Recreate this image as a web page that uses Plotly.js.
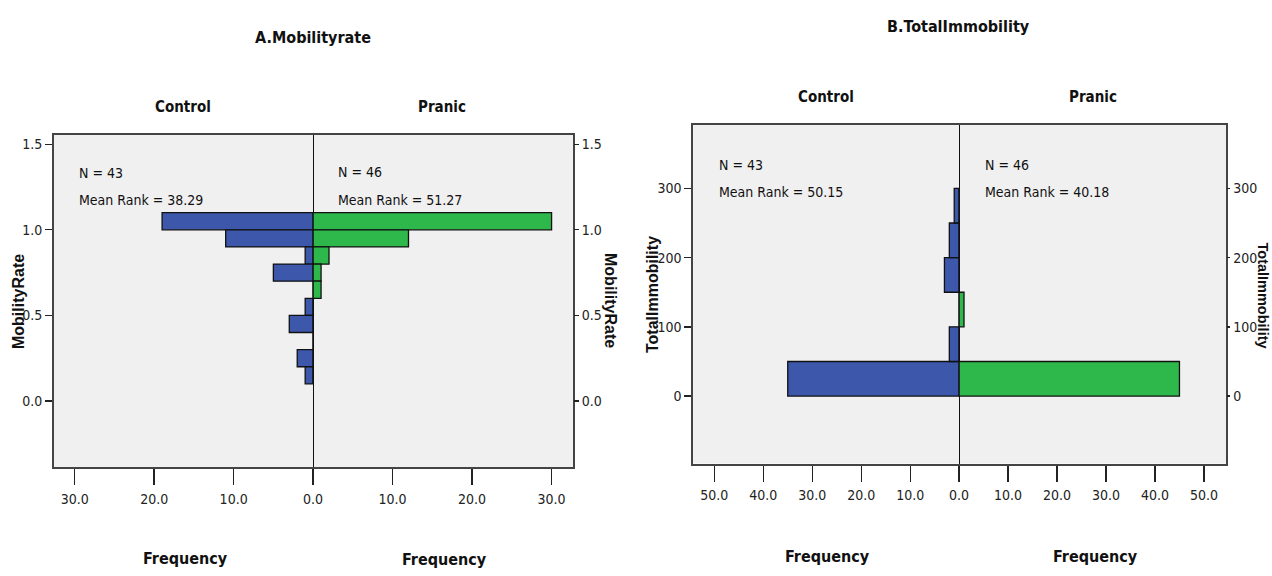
<!DOCTYPE html>
<html>
<head>
<meta charset="utf-8">
<script src="https://cdn.plot.ly/plotly-3.0.1.min.js"></script>
<style>
html,body{margin:0;padding:0;background:#fff;}
#chart{width:1272px;height:576px;}
</style>
</head>
<body>
<div id="chart"></div>
<script>
// ---- Data ----
// Panel A: MobilityRate histogram, bin midpoints (bin width 0.1)
var mobilityBins = [1.05, 0.95, 0.85, 0.75, 0.65, 0.55, 0.45, 0.35, 0.25, 0.15];
var mobilityControl = [19, 11, 1, 5, 0, 1, 3, 0, 2, 1];
var mobilityPranic = [30, 12, 2, 1, 1, 0, 0, 0, 0, 0];
var mobilityBinWidth = 0.1;

// Panel B: TotalImmobility histogram, bin midpoints (bin width 50)
var immobilityBins = [25, 75, 125, 175, 225, 275];
var immobilityControl = [35, 2, 0, 3, 2, 1];
var immobilityPranic = [45, 0, 1, 0, 0, 0];
var immobilityBinWidth = 50;

// Tick labels
var mobilityFreqTicks = [-30, -20, -10, 0, 10, 20, 30];
var immobilityFreqTicks = [-50, -40, -30, -20, -10, 0, 10, 20, 30, 40, 50];
var mobilityRateTicks = [0, 0.5, 1.0, 1.5];
var mobilityRateLabels = ["0.0", "0.5", "1.0", "1.5"];
var immobilityTicks = [0, 100, 200, 300];
var immobilityLabels = ["0", "100", "200", "300"];

// Group stats
var groupNames = ["Control", "Pranic"];
var mobilityN = [43, 46];
var mobilityMeanRank = ["38.29", "51.27"];
var immobilityN = [43, 46];
var immobilityMeanRank = ["50.15", "40.18"];

// ---- Styling ----
var BLUE = '#3d57ab';
var GREEN = '#2eb84b';
var NARROW = 'DejaVu Sans Condensed, Liberation Sans Narrow, DejaVu Sans, sans-serif';
var WIDE = 'Liberation Sans, Arial, DejaVu Sans, sans-serif';

function neg(a){ return a.map(function(v){ return -v; }); }
function absLabels(a){ return a.map(function(v){ return Math.abs(v).toFixed(1); }); }

function barTrace(vals, bins, w, color, xa, ya){
  return {
    type: 'bar', orientation: 'h',
    x: vals, y: bins, width: w, base: 0,
    xaxis: xa, yaxis: ya,
    marker: {color: color, line: {color: '#111', width: 1.3}},
    hoverinfo: 'skip', showlegend: false
  };
}

var traces = [
  barTrace(neg(mobilityControl), mobilityBins, mobilityBinWidth, BLUE, 'x', 'y'),
  barTrace(mobilityPranic, mobilityBins, mobilityBinWidth, GREEN, 'x', 'y'),
  barTrace(neg(immobilityControl), immobilityBins, immobilityBinWidth, BLUE, 'x2', 'y2'),
  barTrace(immobilityPranic, immobilityBins, immobilityBinWidth, GREEN, 'x2', 'y2'),
  {type:'scatter', x:[], y:[], xaxis:'x', yaxis:'y3', hoverinfo:'skip', showlegend:false},
  {type:'scatter', x:[], y:[], xaxis:'x2', yaxis:'y4', hoverinfo:'skip', showlegend:false}
];

var tickFont = {family: NARROW, size: 14, color: '#222', stretch: 'condensed'};

function xAxis(domain, range, ticks){
  return {
    domain: domain, range: range, fixedrange: true,
    tickmode: 'array', tickvals: ticks, ticktext: absLabels(ticks),
    ticks: 'outside', ticklen: 16, tickwidth: 1.3, tickcolor: '#222',
    tickfont: tickFont, ticklabelstandoff: 2,
    showgrid: false,
    zeroline: true, zerolinecolor: '#111', zerolinewidth: 1.2,
    showline: true, mirror: true, linecolor: '#444', linewidth: 2
  };
}
function yAxis(domain, range, ticks, labels, anchor){
  return {
    domain: domain, range: range, anchor: anchor, fixedrange: true,
    tickmode: 'array', tickvals: ticks, ticktext: labels,
    ticks: 'outside', ticklen: 7, tickwidth: 1.3, tickcolor: '#222',
    tickfont: tickFont, ticklabelstandoff: 0,
    showgrid: false, zeroline: false,
    showline: true, mirror: true, linecolor: '#444', linewidth: 2
  };
}
function yRight(over, range, ticks, labels, anchor, len){
  return {
    overlaying: over, side: 'right', anchor: anchor, range: range, fixedrange: true,
    tickmode: 'array', tickvals: ticks, ticktext: labels,
    ticks: 'outside', ticklen: len, tickwidth: 1.3, tickcolor: '#222',
    tickfont: tickFont, ticklabelstandoff: 0,
    showgrid: false, zeroline: false, showline: false
  };
}

var yA = [0.1892, 0.7656];
var yB = [0.1953, 0.7830];
var rangeA = [-0.386, 1.554];
var rangeB = [-97.3, 391.5];

var layout = {
  width: 1272, height: 576,
  margin: {l: 0, r: 0, t: 0, b: 0},
  paper_bgcolor: '#ffffff',
  plot_bgcolor: '#f0f0f0',
  barmode: 'overlay',
  showlegend: false,
  xaxis: xAxis([0.04245, 0.4505], [-32.6, 32.7], mobilityFreqTicks),
  yaxis: yAxis(yA, rangeA, mobilityRateTicks, mobilityRateLabels, 'x'),
  xaxis2: Object.assign(xAxis([0.5450, 0.9642], [-54.3, 54.6], immobilityFreqTicks), {anchor: 'y2'}),
  yaxis2: yAxis(yB, rangeB, immobilityTicks, immobilityLabels, 'x2'),
  yaxis3: yRight('y', rangeA, mobilityRateTicks, mobilityRateLabels, 'x', 5),
  yaxis4: yRight('y2', rangeB, immobilityTicks, immobilityLabels, 'x2', 3),
  annotations: []
};
layout.xaxis.anchor = 'y';

function ann(text, x, y, opts){
  var a = {
    text: text, x: x, y: y, xref: 'paper', yref: 'paper',
    xanchor: 'center', yanchor: 'middle', showarrow: false,
    font: {family: NARROW, size: 15, color: '#111', weight: 'bold', stretch: 'condensed'}
  };
  for (var k in opts) a[k] = opts[k];
  return a;
}
function px(x){ return x / 1272; }
function py(y){ return 1 - y / 576; }

var A = layout.annotations;
var titleFont = {family: NARROW, size: 16, color: '#111', weight: 'bold', stretch: 'condensed'};
var freqFont = {family: NARROW, size: 16, color: '#111', weight: 'bold', stretch: 'condensed'};
// Titles
A.push(ann('A.Mobilityrate', px(312.7), py(37.3), {font: titleFont}));
A.push(ann('B.TotalImmobility', px(958), py(26.7), {font: titleFont}));
// Group labels
A.push(ann(groupNames[0], px(183.3), py(106.7)));
A.push(ann(groupNames[1], px(442), py(106.7)));
A.push(ann(groupNames[0], px(825.7), py(96.7)));
A.push(ann(groupNames[1], px(1092.7), py(96.7)));
// Frequency labels
A.push(ann('Frequency', px(185), py(558), {font: freqFont}));
A.push(ann('Frequency', px(444.5), py(559), {font: freqFont}));
A.push(ann('Frequency', px(827), py(556), {font: freqFont}));
A.push(ann('Frequency', px(1095), py(556), {font: freqFont}));
// Y axis titles
var yTitleFont = {family: WIDE, size: 16, color: '#111', weight: 'bold'};
var yTitleFontR = {family: WIDE, size: 14.5, color: '#111', weight: 'bold'};
A.push(ann('MobilityRate', px(18), py(302), {textangle: -90, font: yTitleFont}));
A.push(ann('MobilityRate', px(611), py(300), {textangle: 90, font: yTitleFont}));
A.push(ann('TotalImmobility', px(652), py(295), {textangle: -90, font: yTitleFont}));
A.push(ann('TotalImmobility', px(1262.5), py(295), {textangle: 90, font: yTitleFontR}));
// N / Mean Rank
var statFont = {family: NARROW, size: 14, color: '#111', stretch: 'condensed'};
function stat(text, x, y){ return ann(text, px(x), py(y), {xanchor: 'left', font: statFont}); }
A.push(stat('N = ' + mobilityN[0], 76.5, 173));
A.push(stat('Mean Rank = ' + mobilityMeanRank[0], 76.5, 200));
A.push(stat('N = ' + mobilityN[1], 336.3, 172));
A.push(stat('Mean Rank = ' + mobilityMeanRank[1], 336.3, 200));
A.push(stat('N = ' + immobilityN[0], 716.7, 165));
A.push(stat('Mean Rank = ' + immobilityMeanRank[0], 716.7, 191.7));
A.push(stat('N = ' + immobilityN[1], 983, 165));
A.push(stat('Mean Rank = ' + immobilityMeanRank[1], 983, 191.7));

Plotly.newPlot('chart', traces, layout, {displayModeBar: false, staticPlot: true});
</script>
</body>
</html>
